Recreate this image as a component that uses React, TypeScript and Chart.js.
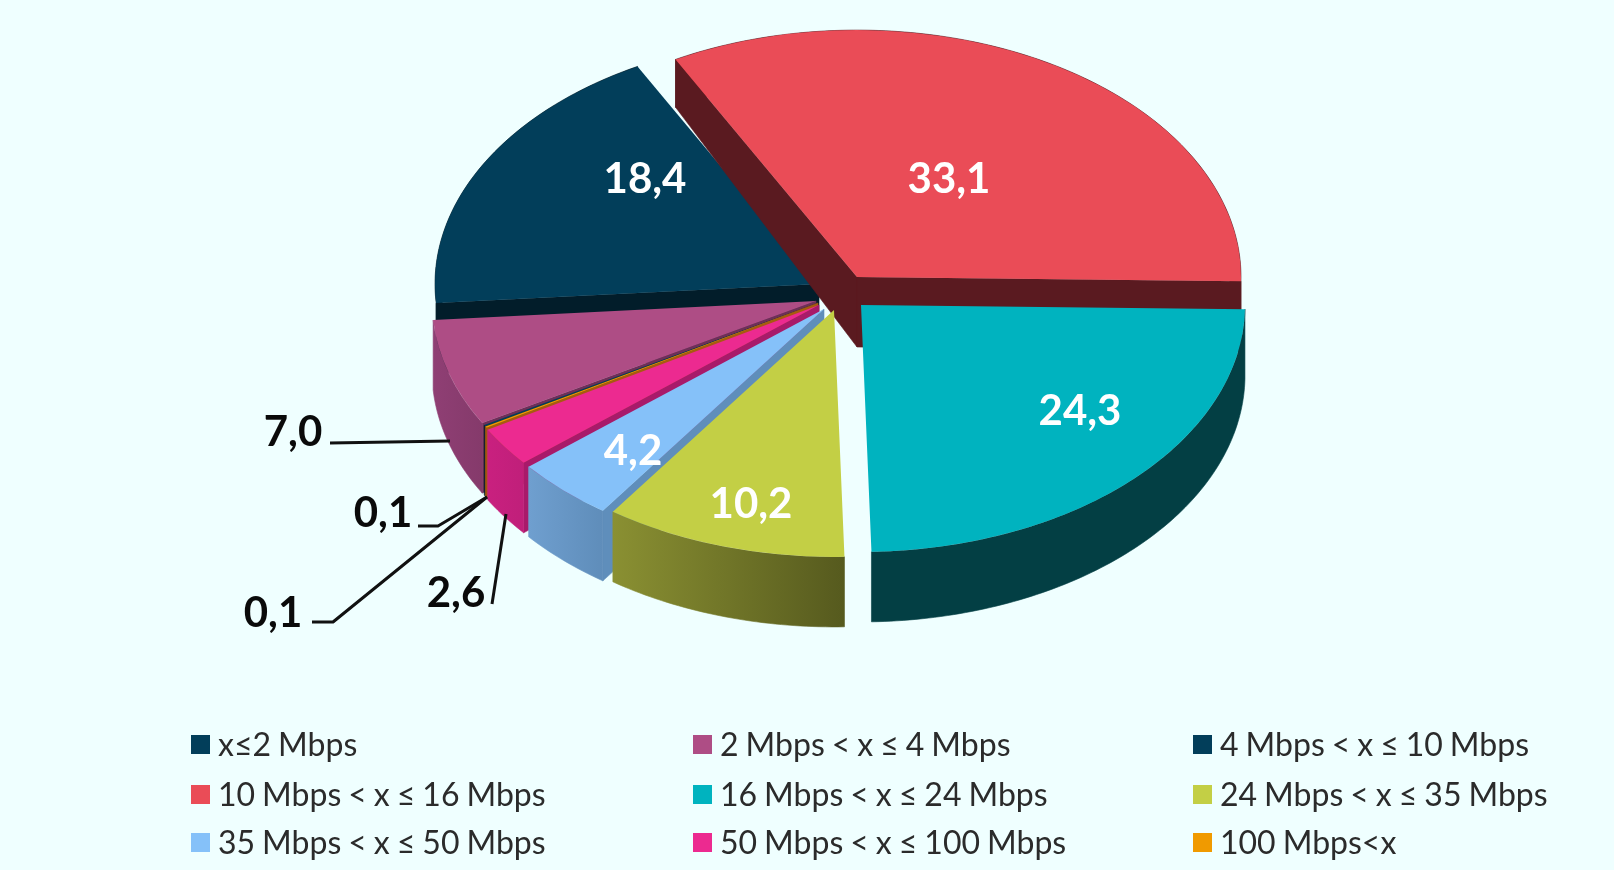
import React, { useEffect, useRef } from "react";
import { Chart, registerables } from "chart.js";

Chart.register(...registerables);

const categories = [
  "x≤2 Mbps",
  "2 Mbps < x ≤ 4 Mbps",
  "4 Mbps < x ≤ 10 Mbps",
  "10 Mbps < x ≤ 16 Mbps",
  "16 Mbps < x ≤ 24 Mbps",
  "24 Mbps < x ≤ 35 Mbps",
  "35 Mbps < x ≤ 50 Mbps",
  "50 Mbps < x ≤ 100 Mbps",
  "100 Mbps<x",
];
const shares = [0.1, 7.0, 18.4, 33.1, 24.3, 10.2, 4.2, 2.6, 0.1];

const topColors = ["#023e5a", "#ae4d85", "#023e5a", "#ea4c57", "#00b3bf", "#c3cf45", "#85c1f9", "#ec2a90", "#f09a00"];
const rimColors: [string, string][] = [
  ["#021d2a", "#021d2a"],
  ["#8f3f74", "#853a6b"],
  ["#021d2a", "#021d2a"],
  ["#5a1a20", "#5a1a20"],
  ["#033f44", "#033f44"],
  ["#8a9032", "#565a1e"],
  ["#6f9fcf", "#5f8dba"],
  ["#c9207f", "#c01f7a"],
  ["#a85a10", "#a85a10"],
];
const cutColors = ["#021d2a", "#6e2f58", "#021d2a", "#5a1a20", "#033f44", "#6b7026", "#5f8ebb", "#a81a6a", "#a85a10"];
const legendSwatches = ["#023e5a", "#ae4d85", "#023e5a", "#ea4c57", "#00b3bf", "#c3cf45", "#85c1f9", "#ec2a90", "#f09a00"];

// explosion of each slice, back-to-front paint order, and view settings
const explode: [number, number][] = [
  [-8, 6], [-10, 4], [-7, -13], [31, -20], [35, 8], [8, 13], [-2, 12], [-7, 8], [-8, 6],
];
const paintOrder = [2, 3, 1, 0, 8, 7, 6, 5, 4];
const TILT = 0.643;
const BG = "#efffff";

// label placement: [slice index, x, y, colour]
const labelPlaces: [number, number, number, string][] = [
  [3, 949, 179, "#ffffff"],
  [2, 645, 179, "#ffffff"],
  [4, 1080, 411, "#ffffff"],
  [5, 751, 504, "#ffffff"],
  [6, 633, 451, "#ffffff"],
  [1, 293, 432, "#0a0a0a"],
  [0, 383, 513, "#0a0a0a"],
  [8, 273, 613, "#0a0a0a"],
  [7, 456, 593, "#0a0a0a"],
];
const leaders: [number, number][][] = [
  [[330, 443], [450, 441]],
  [[418, 526], [438, 526], [487, 497]],
  [[312, 622], [333, 622], [487, 497]],
  [[492, 604], [506, 514]],
];
const legendColumns = [191, 693, 1193];
const legendRows = [744, 794, 842];

const depthAt = (y: number) => Math.min(70, 48 + (y - 61) * 0.102);

const pie3d = {
  id: "pie3d",
  beforeDatasetsDraw(chart: any) {
    const ctx: CanvasRenderingContext2D = chart.ctx;
    const arcs = chart.getDatasetMeta(0).data;
    const wall = (line: number[][]) => {
      ctx.beginPath();
      line.forEach((p, k) => (k ? ctx.lineTo(p[0], p[1]) : ctx.moveTo(p[0], p[1])));
      for (let k = line.length - 1; k >= 0; k--) ctx.lineTo(line[k][0], line[k][1] + depthAt(line[k][1]));
      ctx.closePath();
      ctx.fill();
      ctx.stroke();
    };
    for (const i of paintOrder) {
      const arc = arcs[i];
      const { x, y, startAngle, endAngle, outerRadius: R } = arc;
      const cx = x + explode[i][0];
      const cy = y + explode[i][1];
      const pt = (t: number) => [cx + R * Math.cos(t), cy + R * TILT * Math.sin(t)];
      const apex = [cx, cy];
      const mid = pt((startAngle + endAngle) / 2);
      ctx.save();
      ctx.lineWidth = 0.6;
      // cut faces: only those whose downward extrusion falls outside the slice's top
      ctx.fillStyle = cutColors[i];
      ctx.strokeStyle = cutColors[i];
      for (const t of [startAngle, endAngle]) {
        const p = pt(t);
        const ex = p[0] - apex[0];
        const ey = p[1] - apex[1];
        const sideDown = ex; // cross(edge, down)
        const sideMid = ex * (mid[1] - apex[1]) - ey * (mid[0] - apex[0]);
        if (Math.abs(ex) / Math.hypot(ex, ey) > 0.1 && sideDown * sideMid < 0) wall([apex, p]);
      }
      // outer rim
      const steps = Math.max(4, Math.ceil((endAngle - startAngle) * 60));
      const pts: number[][] = [];
      for (let s = 0; s <= steps; s++) pts.push(pt(startAngle + ((endAngle - startAngle) * s) / steps));
      const xs = pts.map((p) => p[0]);
      const x0 = Math.min(...xs);
      const x1 = Math.max(...xs);
      const g = ctx.createLinearGradient(x0, 0, Math.max(x1, x0 + 1), 0);
      g.addColorStop(0, rimColors[i][0]);
      g.addColorStop(1, rimColors[i][1]);
      ctx.fillStyle = g;
      ctx.strokeStyle = g;
      wall(pts);
      ctx.restore();
      // top surface, drawn by the library's arc element
      ctx.save();
      ctx.translate(cx, cy);
      ctx.scale(1, TILT);
      ctx.translate(-x, -y);
      arc.draw(ctx);
      ctx.restore();
    }
    return false;
  },
  afterDraw(chart: any) {
    const ctx: any = chart.ctx;
    ctx.save();
    ctx.strokeStyle = "#111111";
    ctx.lineWidth = 3;
    ctx.lineJoin = "round";
    for (const line of leaders) {
      ctx.beginPath();
      line.forEach((p, k) => (k ? ctx.lineTo(p[0], p[1]) : ctx.moveTo(p[0], p[1])));
      ctx.stroke();
    }
    ctx.textAlign = "center";
    ctx.textBaseline = "middle";
    ctx.font = "bold 42px Lato, 'Open Sans', sans-serif";
    for (const [i, lx, ly, col] of labelPlaces) {
      ctx.fillStyle = col;
      ctx.fillText(shares[i].toFixed(1).replace(".", ","), lx, ly);
    }
    ctx.textAlign = "left";
    ctx.font = "32px Lato, 'Open Sans', sans-serif";
    ctx.wordSpacing = "-1.2px";
    categories.forEach((name, i) => {
      const col = legendColumns[i % 3];
      const row = legendRows[Math.floor(i / 3)];
      ctx.fillStyle = legendSwatches[i];
      ctx.fillRect(col, row - 9, 19, 19);
      ctx.fillStyle = "#2b2b2b";
      ctx.fillText(name, col + 27, row + 2);
    });
    ctx.restore();
  },
};

export default function App() {
  const ref = useRef<HTMLCanvasElement>(null);
  useEffect(() => {
    document.body.style.margin = "0";
    document.body.style.background = BG;
    const chart = new Chart(ref.current as HTMLCanvasElement, {
      type: "pie",
      data: {
        labels: categories,
        datasets: [{ data: shares, backgroundColor: topColors, borderWidth: 0 }],
      },
      options: {
        animation: false,
        responsive: false,
        devicePixelRatio: 1,
        rotation: -120,
        radius: 384,
        layout: { padding: { left: 38, bottom: 276 } },
        plugins: { legend: { display: false }, tooltip: { enabled: false } },
      },
      plugins: [pie3d],
    } as any);
    return () => chart.destroy();
  }, []);
  return (
    <div style={{ position: "absolute", left: 0, top: 0, width: 1614, height: 870, overflow: "hidden", background: BG }}>
      <canvas ref={ref} width={1614} height={870} style={{ display: "block", filter: "blur(0.6px)" }} />
    </div>
  );
}
